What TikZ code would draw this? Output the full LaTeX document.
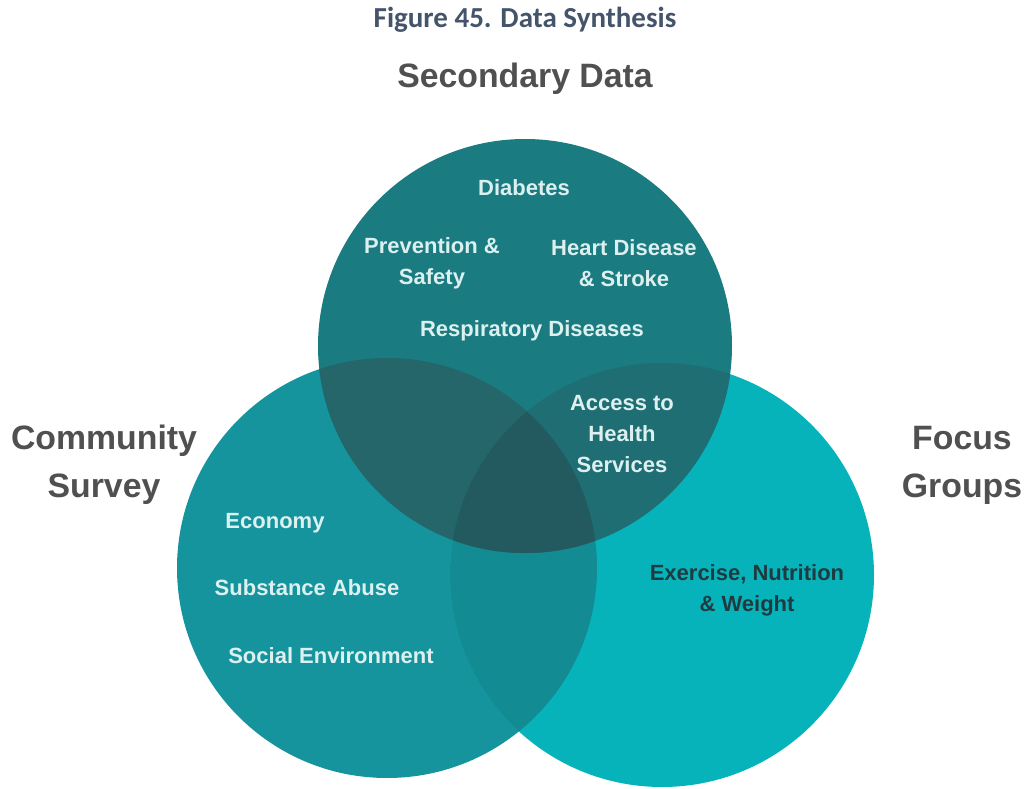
\documentclass[tikz,border=0pt]{standalone}
\usepackage{fontspec}
\setmainfont{Liberation Sans}
\newfontfamily\carlito{Carlito}
\definecolor{titlecol}{HTML}{44546A}
\definecolor{headcol}{HTML}{505050}
\definecolor{topc}{HTML}{1A7B80}
\definecolor{leftc}{HTML}{15949D}
\definecolor{rightc}{HTML}{07B3BB}
\definecolor{tlc}{HTML}{24666A}
\definecolor{trc}{HTML}{1E6E74}
\definecolor{lrc}{HTML}{138B93}
\definecolor{allc}{HTML}{225A5F}
\definecolor{labc}{HTML}{DDF0F0}
\definecolor{darklab}{HTML}{1F3B40}
\tikzset{
  heading/.style={font=\bfseries\fontsize{33.8}{48}\selectfont, text=headcol, align=center},
  label/.style={font=\bfseries\fontsize{22}{31}\selectfont, text=labc, align=center},
  darklabel/.style={label, text=darklab},
  titlestyle/.style={font=\carlito\bfseries\fontsize{29}{34}\selectfont, text=titlecol}
}
\begin{document}
\begin{tikzpicture}[x=1pt,y=-1pt]
\useasboundingbox (0,0) rectangle (1026,789);
\fill[white] (0,0) rectangle (1026,789);
\def\rT{207}\def\rL{210}\def\rR{212}
\coordinate (T) at (525,346);
\coordinate (L) at (387,568);
\coordinate (R) at (662,575);
% single circles
\fill[leftc] (L) circle[radius=\rL];
\fill[rightc] (R) circle[radius=\rR];
\fill[topc] (T) circle[radius=\rT];
% pairwise overlaps
\begin{scope}
  \clip (L) circle[radius=\rL];
  \fill[lrc] (R) circle[radius=\rR];
  \fill[tlc] (T) circle[radius=\rT];
\end{scope}
\begin{scope}
  \clip (R) circle[radius=\rR];
  \fill[trc] (T) circle[radius=\rT];
\end{scope}
\begin{scope}
  \clip (L) circle[radius=\rL];
  \clip (R) circle[radius=\rR];
  \fill[allc] (T) circle[radius=\rT];
\end{scope}
% title and headings
\node[titlestyle] (title) at (525,20) {Figure 45. Data Synthesis};
\node[heading] (sec) at (525,79) {Secondary Data};
\node[heading] (comm) at (104,465) {Community\\Survey};
\node[heading] (focus) at (962,465) {Focus\\Groups};
% labels
\node[label] (dia) at (524,188) {Diabetes};
\node[label] (prev) at (432,263) {Prevention \&\\Safety};
\node[label] (heart) at (624,263) {Heart Disease\\\& Stroke};
\node[label] (resp) at (532,331) {Respiratory Diseases};
\node[label] (access) at (622,434) {Access to\\Health\\Services};
\node[label] (econ) at (275,523) {Economy};
\node[label] (subst) at (307,588) {Substance Abuse};
\node[label] (social) at (331,656) {Social Environment};
\node[darklabel] (exer) at (747,590) {Exercise, Nutrition\\\& Weight};
\end{tikzpicture}
\end{document}
